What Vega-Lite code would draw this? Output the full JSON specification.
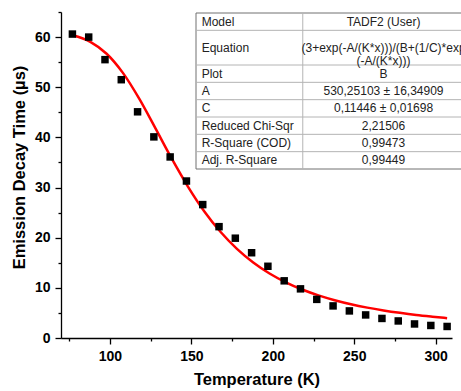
{
  "$schema": "https://vega.github.io/schema/vega-lite/v6.json",
  "width": 391,
  "height": 326,
  "autosize": {"type": "none"},
  "padding": {"left": 61, "top": 12, "right": 9, "bottom": 53},
  "background": "white",
  "config": {
    "view": {"stroke": null},
    "axis": {
      "grid": false,
      "domainColor": "black",
      "tickColor": "black",
      "labelColor": "black",
      "titleColor": "black",
      "domainWidth": 1.3,
      "tickWidth": 1.3,
      "labelFont": "Liberation Sans",
      "titleFont": "Liberation Sans",
      "labelFontWeight": "bold",
      "titleFontWeight": "bold",
      "labelFontSize": 14,
      "titleFontSize": 16.5
    }
  },
  "datasets": {
    "points": [
      {"T": 77, "tau": 60.6}, {"T": 87, "tau": 60.0}, {"T": 97, "tau": 55.5}, {"T": 107, "tau": 51.5},
      {"T": 117, "tau": 45.1}, {"T": 127, "tau": 40.1}, {"T": 137, "tau": 36.1}, {"T": 147, "tau": 31.3},
      {"T": 157, "tau": 26.6}, {"T": 167, "tau": 22.2}, {"T": 177, "tau": 19.9}, {"T": 187, "tau": 17.0},
      {"T": 197, "tau": 14.3}, {"T": 207, "tau": 11.4}, {"T": 217, "tau": 9.8}, {"T": 227, "tau": 7.7},
      {"T": 237, "tau": 6.4}, {"T": 247, "tau": 5.4}, {"T": 257, "tau": 4.6}, {"T": 267, "tau": 3.9},
      {"T": 277, "tau": 3.4}, {"T": 287, "tau": 2.8}, {"T": 297, "tau": 2.5}, {"T": 307, "tau": 2.3}
    ],
    "fit": [
      {"T": 77, "tau": 60.35}, {"T": 88, "tau": 59.06}, {"T": 98, "tau": 56.68}, {"T": 108, "tau": 52.86},
      {"T": 118, "tau": 47.72}, {"T": 128, "tau": 41.79}, {"T": 138, "tau": 35.75}, {"T": 148, "tau": 30.15},
      {"T": 158, "tau": 25.23}, {"T": 168, "tau": 21.13}, {"T": 178, "tau": 17.78}, {"T": 188, "tau": 15.06},
      {"T": 198, "tau": 12.87}, {"T": 208, "tau": 11.11}, {"T": 218, "tau": 9.67}, {"T": 228, "tau": 8.50},
      {"T": 238, "tau": 7.54}, {"T": 248, "tau": 6.73}, {"T": 258, "tau": 6.06}, {"T": 268, "tau": 5.50},
      {"T": 278, "tau": 5.02}, {"T": 288, "tau": 4.60}, {"T": 298, "tau": 4.25}, {"T": 307, "tau": 3.96}
    ],
    "table": [
      {"param": "Model", "value": "TADF2 (User)", "row": 0, "mid": 0.5},
      {"param": "Equation", "value": "(3+exp(-A/(K*x)))/(B+(1/C)*exp\n(-A/(K*x)))", "row": 1, "mid": 2},
      {"param": "Plot", "value": "B", "row": 3, "mid": 3.5},
      {"param": "A", "value": "530,25103 ± 16,34909", "row": 4, "mid": 4.5},
      {"param": "C", "value": "0,11446 ± 0,01698", "row": 5, "mid": 5.5},
      {"param": "Reduced Chi-Sqr", "value": "2,21506", "row": 6, "mid": 6.5},
      {"param": "R-Square (COD)", "value": "0,99473", "row": 7, "mid": 7.5},
      {"param": "Adj. R-Square", "value": "0,99449", "row": 8, "mid": 8.5}
    ]
  },
  "layer": [
    {
      "layer": [
        {
          "data": {"name": "fit"},
          "mark": {"type": "line", "color": "#ff0000", "strokeWidth": 2.5, "interpolate": "monotone", "clip": true},
          "encoding": {
            "x": {"field": "T", "type": "quantitative", "scale": {"domain": [70, 310], "nice": false, "zero": false},
                  "axis": {"orient": "bottom", "values": [75, 125, 175, 225, 275], "labels": false, "domain": false, "tickSize": 3, "title": null}},
            "y": {"field": "tau", "type": "quantitative", "scale": {"domain": [0, 65], "nice": false},
                  "axis": {"orient": "left", "values": [5, 15, 25, 35, 45, 55, 65], "labels": false, "domain": false, "tickSize": 3, "title": null}}
          }
        },
        {
          "data": {"name": "points"},
          "mark": {"type": "point", "shape": "square", "filled": true, "size": 56, "color": "black", "opacity": 1},
          "encoding": {
            "x": {"field": "T", "type": "quantitative", "scale": {"domain": [70, 310], "nice": false, "zero": false},
                  "axis": {"orient": "bottom", "values": [100, 150, 200, 250, 300], "tickSize": 6, "labelPadding": 5, "title": "Temperature (K)", "titlePadding": 8}},
            "y": {"field": "tau", "type": "quantitative", "scale": {"domain": [0, 65], "nice": false},
                  "axis": {"orient": "left", "values": [0, 10, 20, 30, 40, 50, 60], "tickSize": 6, "labelPadding": 5, "title": "Emission Decay Time (µs)", "titlePadding": 7, "titleY": 155}}
          }
        }
      ],
      "resolve": {"axis": {"x": "independent", "y": "independent"}}
    },
    {
      "layer": [
        {
          "data": {"values": [{}]},
          "mark": {"type": "rect", "fill": "white", "stroke": "#707070", "strokeWidth": 1},
          "encoding": {
            "x": {"datum": 0, "type": "quantitative", "scale": {"domain": [0, 1], "range": [135, 406], "nice": false, "zero": false}, "axis": null},
            "x2": {"datum": 1},
            "y": {"datum": 0, "type": "quantitative", "scale": {"domain": [0, 9], "range": [1, 157], "nice": false, "zero": false}, "axis": null},
            "y2": {"datum": 9}
          }
        },
        {
          "data": {"name": "table"},
          "transform": [{"filter": "datum.row > 0"}],
          "mark": {"type": "rule", "stroke": "#b4b4b4", "strokeWidth": 1},
          "encoding": {
            "x": {"datum": 0, "type": "quantitative", "scale": {"domain": [0, 1], "range": [135, 406], "nice": false, "zero": false}, "axis": null},
            "x2": {"datum": 1},
            "y": {"field": "row", "type": "quantitative", "scale": {"domain": [0, 9], "range": [1, 157], "nice": false, "zero": false}, "axis": null}
          }
        },
        {
          "data": {"values": [{}]},
          "mark": {"type": "rule", "stroke": "#b4b4b4", "strokeWidth": 1},
          "encoding": {
            "x": {"datum": 0.394, "type": "quantitative", "scale": {"domain": [0, 1], "range": [135, 406], "nice": false, "zero": false}, "axis": null},
            "y": {"datum": 0, "type": "quantitative", "scale": {"domain": [0, 9], "range": [1, 157], "nice": false, "zero": false}, "axis": null},
            "y2": {"datum": 9}
          }
        },
        {
          "data": {"name": "table"},
          "mark": {"type": "text", "align": "left", "baseline": "middle", "font": "Liberation Sans", "fontSize": 12, "color": "#222222"},
          "encoding": {
            "x": {"datum": 0.021, "type": "quantitative", "scale": {"domain": [0, 1], "range": [135, 406], "nice": false, "zero": false}, "axis": null},
            "y": {"field": "mid", "type": "quantitative", "scale": {"domain": [0, 9], "range": [1, 157], "nice": false, "zero": false}, "axis": null},
            "text": {"field": "param", "type": "nominal"}
          }
        },
        {
          "data": {"name": "table"},
          "mark": {"type": "text", "align": "center", "baseline": "middle", "font": "Liberation Sans", "fontSize": 12, "color": "#222222", "lineBreak": "\n", "lineHeight": 13.5},
          "encoding": {
            "x": {"datum": 0.692, "type": "quantitative", "scale": {"domain": [0, 1], "range": [135, 406], "nice": false, "zero": false}, "axis": null},
            "y": {"field": "mid", "type": "quantitative", "scale": {"domain": [0, 9], "range": [1, 157], "nice": false, "zero": false}, "axis": null},
            "text": {"field": "value", "type": "nominal"}
          }
        }
      ]
    }
  ],
  "resolve": {"scale": {"x": "independent", "y": "independent"}}
}
